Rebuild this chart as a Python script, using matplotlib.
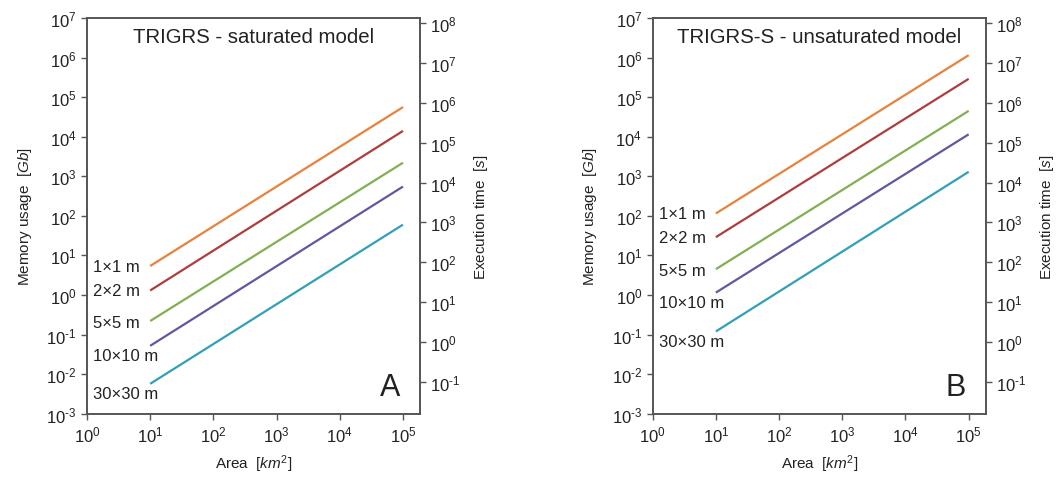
import matplotlib
import numpy as np

matplotlib.use('Agg')
import matplotlib.pyplot as plt
from matplotlib.ticker import FixedLocator, NullLocator, FuncFormatter

# area [km2] at which each curve starts and ends
area = [10, 1e5]
resolutions = ['1×1 m', '2×2 m', '5×5 m', '10×10 m', '30×30 m']

# memory usage [Gb] at the two ends
memory_saturated = [
    [5.4, 5.6e4],
    [1.3, 1.4e4],
    [0.22, 2.2e3],
    [0.052, 5.5e2],
    [0.0057, 60],
]
memory_unsaturated = [
    [115, 1.15e6],
    [29, 2.9e5],
    [4.5, 4.5e4],
    [1.15, 1.15e4],
    [0.12, 1.3e3],
]

titles = ['TRIGRS - saturated model', 'TRIGRS-S - unsaturated model']
panel_letters = ['A', 'B']

colors = ['#e8823a', '#b03c3c', '#80b050', '#6655a0', '#30a0b8']
# vertical offset (points) of each resolution label from the start of its line
label_offsets = [0, 0, -1, -7, -7]

plt.rcParams['font.family'] = ['Liberation Sans', 'DejaVu Sans']
plt.rcParams['mathtext.fontset'] = 'custom'
plt.rcParams['mathtext.rm'] = 'Liberation Sans'
plt.rcParams['mathtext.it'] = 'Liberation Sans:italic'
plt.rcParams['mathtext.default'] = 'regular'
plt.rcParams['axes.unicode_minus'] = False

spine_color = '#555555'
text_color = '#222222'


def power_label(value, pos):
    # hyphen instead of the mathtext minus sign, as in the original
    k = int(round(np.log10(value)))
    exp = str(k) if k >= 0 else r'\text{-}' + str(-k)
    return r'$10^{' + exp + '}$'


def style_axis(ax):
    for side in ax.spines:
        ax.spines[side].set_color(spine_color)
        ax.spines[side].set_linewidth(1.2)
    ax.tick_params(direction='out', length=4, width=1, color=spine_color,
                   labelsize=12, labelcolor=text_color)


def plot_panel(ax, memory, title, letter):
    for values, name, color, dy in zip(memory, resolutions, colors, label_offsets):
        ax.plot(area, values, color=color, linewidth=1.6, solid_capstyle='butt')
        ax.annotate(name, xy=(area[0], values[0]), xytext=(-41, dy),
                    textcoords='offset points', ha='left', va='center',
                    fontsize=12, color=text_color)
    ax.set_xscale('log')
    ax.set_yscale('log')
    ax.set_xlim(1, 10 ** 5.27)
    ax.set_ylim(1e-3, 1e7)
    ax.xaxis.set_major_locator(FixedLocator([10.0 ** k for k in range(0, 6)]))
    ax.yaxis.set_major_locator(FixedLocator([10.0 ** k for k in range(-3, 8)]))
    ax.xaxis.set_minor_locator(NullLocator())
    ax.yaxis.set_minor_locator(NullLocator())
    ax.xaxis.set_major_formatter(FuncFormatter(power_label))
    ax.yaxis.set_major_formatter(FuncFormatter(power_label))
    ax.set_xlabel(r'Area  [$\mathit{km}^2$]', fontsize=11, color=text_color, labelpad=6)
    ax.set_ylabel(r'Memory usage  [$\mathit{Gb}$]', fontsize=11, color=text_color, labelpad=9)
    ax.text(0.5, 0.978, title, transform=ax.transAxes, ha='center', va='top',
            fontsize=14.7, color=text_color)
    ax.text(0.94, 0.03, letter, transform=ax.transAxes, ha='right', va='bottom',
            fontsize=22, color=text_color)
    style_axis(ax)

    ax2 = ax.twinx()
    ax2.set_yscale('log')
    ax2.set_ylim(10 ** -1.79, 10 ** 8.12)
    ax2.yaxis.set_major_locator(FixedLocator([10.0 ** k for k in range(-1, 9)]))
    ax2.yaxis.set_minor_locator(NullLocator())
    ax2.yaxis.set_major_formatter(FuncFormatter(power_label))
    ax2.set_ylabel(r'Execution time  [$\mathit{s}$]', fontsize=11, color=text_color, labelpad=8)
    style_axis(ax2)


fig = plt.figure(figsize=(10.58, 4.81), dpi=100)
ax_a = fig.add_axes([0.0822, 0.1378, 0.3148, 0.8227])
ax_b = fig.add_axes([0.6169, 0.1378, 0.3148, 0.8227])

plot_panel(ax_a, memory_saturated, titles[0], panel_letters[0])
plot_panel(ax_b, memory_unsaturated, titles[1], panel_letters[1])

fig.savefig('out.png', dpi=100)
